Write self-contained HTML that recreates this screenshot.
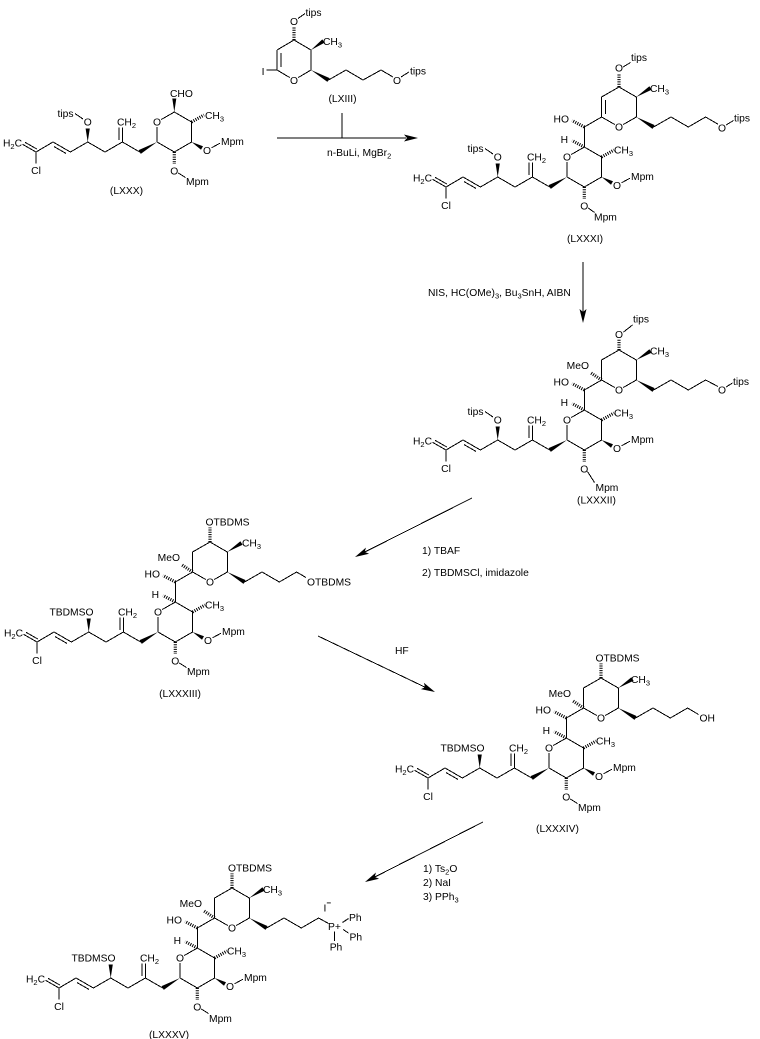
<!DOCTYPE html>
<html><head><meta charset="utf-8">
<style>
html,body{margin:0;padding:0;background:#fff;}
svg{display:block;}
text{font-family:"Liberation Sans",Arial,sans-serif;font-size:10.3px;fill:#000;}
.s{font-size:7.5px;}
.b{fill:none;stroke:#000;stroke-width:1;shape-rendering:crispEdges;}
.w{fill:#000;stroke:none;shape-rendering:geometricPrecision;}
.hh{fill:none;stroke:#000;stroke-width:3.2;stroke-dasharray:1 1.3;}
</style></head><body>
<svg width="760" height="1039" viewBox="0 0 760 1039" xmlns="http://www.w3.org/2000/svg">

<!-- ARROWS -->
<path class="b" d="M277,138 H406 M342,113 V138 M583,262 V312 M472,498 L364.8,552 M318,636 L425.1,687.2 M483,822 L374.8,877"/>
<path class="w" d="M418,138 L404,134.5 L407,138 L404,141.5 Z M583,323 L579.5,309 L583,312 L586.5,309 Z M355,557 L369.1,553.8 L364.8,552 L365.9,547.6 Z M435,692 L420.9,689.1 L425.1,687.2 L423.9,682.8 Z M365,882 L379.1,878.8 L374.8,877 L375.9,872.5 Z"/>

<text x="327" y="156">n-BuLi, MgBr<tspan class="s" dy="2.5">2</tspan></text>
<text x="428" y="296">NIS, HC(OMe)<tspan class="s" dy="2.5">3</tspan><tspan dy="-2.5">, Bu</tspan><tspan class="s" dy="2.5">3</tspan><tspan dy="-2.5">SnH, AIBN</tspan></text>
<text x="422" y="554">1) TBAF</text>
<text x="422" y="576">2) TBDMSCl, imidazole</text>
<text x="395" y="654">HF</text>
<text x="423" y="872">1) Ts<tspan class="s" dy="2.5">2</tspan><tspan dy="-2.5">O</tspan></text>
<text x="423" y="886">2) NaI</text>
<text x="423" y="900">3) PPh<tspan class="s" dy="2.5">3</tspan></text>

<!-- LXIII -->
<path class="b" d="M277,50 V70 M281,53 V67 M277,50 L294,40 L311,50 V70 L298.3,77.5 M289.7,77.5 L277,70 M277,70 L266.5,70 M298,18.5 L305,13.5 M328.5,80 L346,70 L363,80 L381,70 L393,77 M401,77 L409,72"/>
<path class="w" d="M311,50 L322.3,39.4 L324.7,42.6 Z M311,70 L327.4,81.9 L329.6,78.1 Z"/>
<path class="hh" d="M294,40 V27.5"/>
<text x="294" y="25" text-anchor="middle">O</text>
<text x="305.5" y="16">tips</text>
<text x="263" y="75" text-anchor="middle">I</text>
<text x="294" y="83.8" text-anchor="middle">O</text>
<text x="323" y="45">CH<tspan class="s" dy="2.5">3</tspan></text>
<text x="397" y="83.8" text-anchor="middle">O</text>
<text x="410" y="74.5">tips</text>
<text x="342.5" y="102" text-anchor="middle">(LXIII)</text>

<!-- LXXX -->
<g transform="translate(157,142)">
<path class="b" d="M-121,10 L-134.5,2.3 M-120.2,7 L-132,0.3 M-121,10 V21.5 M-121,10 L-104,0 L-86.6,10 L-69.3,0 L-52,10 L-34.6,0 L-17.3,10 M-103.1,4.5 L-90.9,11.5 M-34.6,0 V-14.5 M-38.2,-2.2 V-14.5 M0,0 V-15 M4.3,-22.5 L17.3,-30 L34.6,-20 V0 L17.3,10 L0,0 M54.5,5.8 L63,1.2 M21.3,31 L28.5,35.5 M-74,-23 L-82,-28.5"/>
<path class="w" d="M-69.3,0 L-71.4,-13.5 L-67.2,-13.5 Z M0,0 L-16.2,11.9 L-18.4,8.1 Z M34.6,0 L44,7.7 L46,4.3 Z M17.3,-30 L15.3,-43.5 L19.3,-43.5 Z"/>
<path class="hh" d="M34.6,-20 L47,-27 M17.3,10 V22"/>
<text x="-135" y="4.5" text-anchor="end">H<tspan class="s" dy="2.5">2</tspan><tspan dy="-2.5">C</tspan></text>
<text x="-121" y="32" text-anchor="middle">Cl</text>
<text x="-69.3" y="-16.5" text-anchor="middle">O</text>
<text x="-83.5" y="-25" text-anchor="end">tips</text>
<text x="-40" y="-16.5">CH<tspan class="s" dy="2.5">2</tspan></text>
<text x="0" y="-16.3" text-anchor="middle">O</text>
<text x="13" y="-45">CHO</text>
<text x="48" y="-23">CH<tspan class="s" dy="2.5">3</tspan></text>
<text x="50" y="12.2" text-anchor="middle">O</text>
<text x="64" y="3">Mpm</text>
<text x="17.3" y="32.3" text-anchor="middle">O</text>
<text x="29" y="43">Mpm</text>
</g>
<text x="126.5" y="194" text-anchor="middle">(LXXX)</text>

<!-- LXXXI -->
<g transform="translate(567,177)">
<path class="b" d="M-121,10 L-134.5,2.3 M-120.2,7 L-132,0.3 M-121,10 V21.5 M-121,10 L-104,0 L-86.6,10 L-69.3,0 L-52,10 L-34.6,0 L-17.3,10 M-103.1,4.5 L-90.9,11.5 M-34.6,0 V-14.5 M-38.2,-2.2 V-14.5 M0,0 V-15 M4.3,-22.5 L17.3,-30 L34.6,-20 V0 L17.3,10 L0,0 M54.5,5.8 L63,1.2 M21.3,31 L27.5,35.5 M-74,-23 L-82,-28.5
 M17.3,-30 V-50 L34.6,-60 V-80 L52,-90 L69.3,-80 V-60 L56.3,-52.5 M47.7,-52.5 L34.6,-60 M86.6,-50 L104,-60 L121.3,-50 L138.6,-60 L151,-52.8 M38.6,-77 V-63 M56,-110 L63.5,-114.5 M159,-52 L166.5,-56.5"/>
<path class="w" d="M-69.3,0 L-71.4,-13.5 L-67.2,-13.5 Z M0,0 L-16.2,11.9 L-18.4,8.1 Z M34.6,0 L44,7.7 L46,4.3 Z M69.3,-80 L82.4,-90.7 L84.6,-87.3 Z M69.3,-60 L85.5,-48.1 L87.7,-51.9 Z"/>
<path class="hh" d="M34.6,-20 L47,-27 M17.3,10 V22 M17.3,-30 L5,-36.5 M17.3,-50 L5,-56.5 M52,-90 V-103.5"/>
<text x="-135" y="4.5" text-anchor="end">H<tspan class="s" dy="2.5">2</tspan><tspan dy="-2.5">C</tspan></text>
<text x="-121" y="32" text-anchor="middle">Cl</text>
<text x="-69.3" y="-16.5" text-anchor="middle">O</text>
<text x="-83.5" y="-25" text-anchor="end">tips</text>
<text x="-40" y="-16.5">CH<tspan class="s" dy="2.5">2</tspan></text>
<text x="0" y="-16.3" text-anchor="middle">O</text>
<text x="47" y="-23.5">CH<tspan class="s" dy="2.5">3</tspan></text>
<text x="50" y="12.2" text-anchor="middle">O</text>
<text x="64" y="3">Mpm</text>
<text x="17.3" y="32.3" text-anchor="middle">O</text>
<text x="27" y="43.5">Mpm</text>
<text x="1" y="-34" text-anchor="end">H</text>
<text x="2" y="-54.5" text-anchor="end">HO</text>
<text x="52" y="-46.3" text-anchor="middle">O</text>
<text x="83" y="-85">CH<tspan class="s" dy="2.5">3</tspan></text>
<text x="52" y="-105.5" text-anchor="middle">O</text>
<text x="64" y="-116">tips</text>
<text x="155" y="-45.5" text-anchor="middle">O</text>
<text x="167" y="-55.5">tips</text>
</g>
<text x="585" y="242" text-anchor="middle">(LXXXI)</text>

<!-- LXXXII -->
<g transform="translate(567,440)">
<path class="b" d="M-121,10 L-134.5,2.3 M-120.2,7 L-132,0.3 M-121,10 V21.5 M-121,10 L-104,0 L-86.6,10 L-69.3,0 L-52,10 L-34.6,0 L-17.3,10 M-103.1,4.5 L-90.9,11.5 M-34.6,0 V-14.5 M-38.2,-2.2 V-14.5 M0,0 V-15 M4.3,-22.5 L17.3,-30 L34.6,-20 V0 L17.3,10 L0,0 M54.5,5.8 L63,1.2 M20.5,31.5 L27.5,42.5 M-74,-23 L-82,-28.5
 M17.3,-30 V-50 L34.6,-60 V-80 L52,-90 L69.3,-80 V-60 L56.3,-52.5 M47.7,-52.5 L34.6,-60 M86.6,-50 L104,-60 L121.3,-50 L138.6,-60 L151,-53.5 M56.5,-108 L65.5,-115 M159,-53 L165.5,-57"/>
<path class="w" d="M-69.3,0 L-71.4,-13.5 L-67.2,-13.5 Z M0,0 L-16.2,11.9 L-18.4,8.1 Z M34.6,0 L44,7.7 L46,4.3 Z M69.3,-80 L82.4,-90.7 L84.6,-87.3 Z M69.3,-60 L85.5,-48.1 L87.7,-51.9 Z"/>
<path class="hh" d="M34.6,-20 L47,-27 M17.3,10 V22 M17.3,-30 L5,-36.5 M17.3,-50 L5,-56.5 M52,-90 V-100.5 M34.6,-60 L24,-67"/>
<text x="-135" y="4.5" text-anchor="end">H<tspan class="s" dy="2.5">2</tspan><tspan dy="-2.5">C</tspan></text>
<text x="-121" y="32" text-anchor="middle">Cl</text>
<text x="-69.3" y="-16.5" text-anchor="middle">O</text>
<text x="-83.5" y="-25" text-anchor="end">tips</text>
<text x="-40" y="-16.5">CH<tspan class="s" dy="2.5">2</tspan></text>
<text x="0" y="-16.3" text-anchor="middle">O</text>
<text x="47" y="-23.5">CH<tspan class="s" dy="2.5">3</tspan></text>
<text x="50" y="12.2" text-anchor="middle">O</text>
<text x="64" y="3">Mpm</text>
<text x="17.3" y="32.3" text-anchor="middle">O</text>
<text x="28.5" y="51">Mpm</text>
<text x="1" y="-34" text-anchor="end">H</text>
<text x="2" y="-54.5" text-anchor="end">HO</text>
<text x="22" y="-71" text-anchor="end">MeO</text>
<text x="52" y="-46.3" text-anchor="middle">O</text>
<text x="83" y="-85.5">CH<tspan class="s" dy="2.5">3</tspan></text>
<text x="52" y="-102" text-anchor="middle">O</text>
<text x="66" y="-117.5">tips</text>
<text x="155" y="-46.5" text-anchor="middle">O</text>
<text x="166" y="-55">tips</text>
</g>
<text x="596.5" y="503.5" text-anchor="middle">(LXXXII)</text>

<!-- LXXXIII -->
<g transform="translate(158,632)">
<path class="b" d="M-121,10 L-134.5,2.3 M-120.2,7 L-132,0.3 M-121,10 V21.5 M-121,10 L-104,0 L-86.6,10 L-69.3,0 L-52,10 L-34.6,0 L-17.3,10 M-103.1,4.5 L-90.9,11.5 M-34.6,0 V-14.5 M-38.2,-2.2 V-14.5 M0,0 V-15 M4.3,-22.5 L17.3,-30 L34.6,-20 V0 L17.3,10 L0,0 M54.5,5.8 L63,1.2 M21.3,31 L28.5,35.5
 M17.3,-30 V-50 L34.6,-60 V-80 L52,-90 L69.3,-80 V-60 L56.3,-52.5 M47.7,-52.5 L34.6,-60 M86.6,-50 L104,-60 L121.3,-50 L138.6,-60 L148,-54.5"/>
<path class="w" d="M-69.3,0 L-71.4,-13.5 L-67.2,-13.5 Z M0,0 L-16.2,11.9 L-18.4,8.1 Z M34.6,0 L44,7.7 L46,4.3 Z M69.3,-80 L82.4,-90.7 L84.6,-87.3 Z M69.3,-60 L85.5,-48.1 L87.7,-51.9 Z"/>
<path class="hh" d="M34.6,-20 L47,-27 M17.3,10 V22 M17.3,-30 L5,-36.5 M17.3,-50 L5,-56.5 M52,-90 V-104.5 M34.6,-60 L24,-67"/>
<text x="-135" y="4.5" text-anchor="end">H<tspan class="s" dy="2.5">2</tspan><tspan dy="-2.5">C</tspan></text>
<text x="-121" y="32" text-anchor="middle">Cl</text>
<text x="-64.5" y="-16.5" text-anchor="end">TBDMSO</text>
<text x="-40" y="-16.5">CH<tspan class="s" dy="2.5">2</tspan></text>
<text x="0" y="-16.3" text-anchor="middle">O</text>
<text x="47" y="-23.5">CH<tspan class="s" dy="2.5">3</tspan></text>
<text x="50" y="12.2" text-anchor="middle">O</text>
<text x="64" y="3">Mpm</text>
<text x="17.3" y="32.3" text-anchor="middle">O</text>
<text x="29" y="43">Mpm</text>
<text x="1" y="-34" text-anchor="end">H</text>
<text x="2" y="-54.5" text-anchor="end">HO</text>
<text x="22" y="-71" text-anchor="end">MeO</text>
<text x="52" y="-46.3" text-anchor="middle">O</text>
<text x="84" y="-85.5">CH<tspan class="s" dy="2.5">3</tspan></text>
<text x="47.5" y="-106.5">OTBDMS</text>
<text x="149" y="-46.5">OTBDMS</text>
</g>
<text x="180" y="697" text-anchor="middle">(LXXXIII)</text>

<!-- LXXXIV -->
<g transform="translate(549,768)">
<path class="b" d="M-121,10 L-134.5,2.3 M-120.2,7 L-132,0.3 M-121,10 V21.5 M-121,10 L-104,0 L-86.6,10 L-69.3,0 L-52,10 L-34.6,0 L-17.3,10 M-103.1,4.5 L-90.9,11.5 M-34.6,0 V-14.5 M-38.2,-2.2 V-14.5 M0,0 V-15 M4.3,-22.5 L17.3,-30 L34.6,-20 V0 L17.3,10 L0,0 M54.5,5.8 L63,1.2 M21.3,31 L28.5,35.5
 M17.3,-30 V-50 L34.6,-60 V-80 L52,-90 L69.3,-80 V-60 L56.3,-52.5 M47.7,-52.5 L34.6,-60 M86.6,-50 L104,-60 L121.3,-50 L138.6,-60 L149.5,-53.5"/>
<path class="w" d="M-69.3,0 L-71.4,-13.5 L-67.2,-13.5 Z M0,0 L-16.2,11.9 L-18.4,8.1 Z M34.6,0 L44,7.7 L46,4.3 Z M69.3,-80 L82.4,-90.7 L84.6,-87.3 Z M69.3,-60 L85.5,-48.1 L87.7,-51.9 Z"/>
<path class="hh" d="M34.6,-20 L47,-27 M17.3,10 V22 M17.3,-30 L5,-36.5 M17.3,-50 L5,-56.5 M52,-90 V-104.5 M34.6,-60 L24,-67"/>
<text x="-135" y="4.5" text-anchor="end">H<tspan class="s" dy="2.5">2</tspan><tspan dy="-2.5">C</tspan></text>
<text x="-121" y="32" text-anchor="middle">Cl</text>
<text x="-64.5" y="-16.5" text-anchor="end">TBDMSO</text>
<text x="-40" y="-16.5">CH<tspan class="s" dy="2.5">2</tspan></text>
<text x="0" y="-16.3" text-anchor="middle">O</text>
<text x="47" y="-23.5">CH<tspan class="s" dy="2.5">3</tspan></text>
<text x="50" y="12.2" text-anchor="middle">O</text>
<text x="64" y="3">Mpm</text>
<text x="17.3" y="32.3" text-anchor="middle">O</text>
<text x="29" y="43">Mpm</text>
<text x="1" y="-34" text-anchor="end">H</text>
<text x="2" y="-54.5" text-anchor="end">HO</text>
<text x="22" y="-71" text-anchor="end">MeO</text>
<text x="52" y="-46.3" text-anchor="middle">O</text>
<text x="82" y="-85">CH<tspan class="s" dy="2.5">3</tspan></text>
<text x="46.5" y="-106.5">OTBDMS</text>
<text x="150.5" y="-46.5">OH</text>
</g>
<text x="557.5" y="832" text-anchor="middle">(LXXXIV)</text>

<!-- LXXXV -->
<g transform="translate(180,978)">
<path class="b" d="M-121,10 L-134.5,2.3 M-120.2,7 L-132,0.3 M-121,10 V21.5 M-121,10 L-104,0 L-86.6,10 L-69.3,0 L-52,10 L-34.6,0 L-17.3,10 M-103.1,4.5 L-90.9,11.5 M-34.6,0 V-14.5 M-38.2,-2.2 V-14.5 M0,0 V-15 M4.3,-22.5 L17.3,-30 L34.6,-20 V0 L17.3,10 L0,0 M54.5,5.8 L63,1.2 M21.3,31 L28.5,35.5
 M17.3,-30 V-50 L34.6,-60 V-80 L52,-90 L69.3,-80 V-60 L56.3,-52.5 M47.7,-52.5 L34.6,-60 M86.6,-50 L104,-60 L121.3,-50 L138.6,-60 L148.5,-54.5 M162.5,-55.5 L168.5,-59.5 M163,-48.5 L168.5,-45 M154.5,-46.5 V-37"/>
<path class="w" d="M-69.3,0 L-71.4,-13.5 L-67.2,-13.5 Z M0,0 L-16.2,11.9 L-18.4,8.1 Z M34.6,0 L44,7.7 L46,4.3 Z M69.3,-80 L82.4,-90.7 L84.6,-87.3 Z M69.3,-60 L85.5,-48.1 L87.7,-51.9 Z"/>
<path class="hh" d="M34.6,-20 L47,-27 M17.3,10 V22 M17.3,-30 L5,-36.5 M17.3,-50 L5,-56.5 M52,-90 V-104.5 M34.6,-60 L24,-67"/>
<text x="-135" y="4.5" text-anchor="end">H<tspan class="s" dy="2.5">2</tspan><tspan dy="-2.5">C</tspan></text>
<text x="-121" y="32" text-anchor="middle">Cl</text>
<text x="-64.5" y="-16.5" text-anchor="end">TBDMSO</text>
<text x="-40" y="-16.5">CH<tspan class="s" dy="2.5">2</tspan></text>
<text x="0" y="-16.3" text-anchor="middle">O</text>
<text x="47" y="-23.5">CH<tspan class="s" dy="2.5">3</tspan></text>
<text x="50" y="12.2" text-anchor="middle">O</text>
<text x="64" y="3">Mpm</text>
<text x="17.3" y="32.3" text-anchor="middle">O</text>
<text x="29" y="44">Mpm</text>
<text x="1" y="-34" text-anchor="end">H</text>
<text x="2" y="-54.5" text-anchor="end">HO</text>
<text x="22" y="-71" text-anchor="end">MeO</text>
<text x="52" y="-46.3" text-anchor="middle">O</text>
<text x="83" y="-85">CH<tspan class="s" dy="2.5">3</tspan></text>
<text x="48" y="-106.5">OTBDMS</text>
<text x="143.5" y="-66.5">I<tspan font-size="8" font-weight="bold" dy="-6">−</tspan></text>
<text x="148" y="-48">P+</text>
<text x="169" y="-57">Ph</text>
<text x="169.5" y="-37.5">Ph</text>
<text x="156" y="-27.5" text-anchor="middle">Ph</text>
</g>
<text x="169" y="1038" text-anchor="middle">(LXXXV)</text>

</svg>
</body></html>
